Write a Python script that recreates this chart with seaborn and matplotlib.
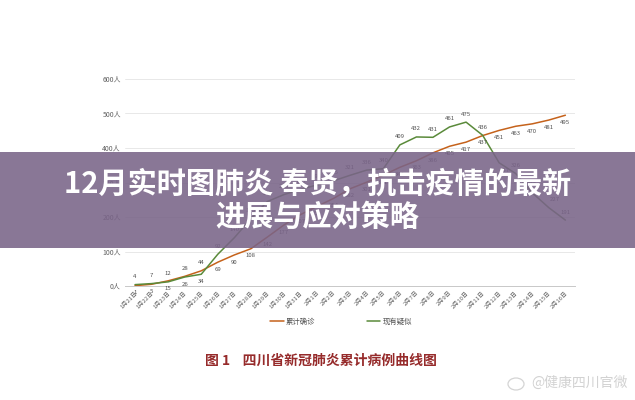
import matplotlib
matplotlib.use("Agg")
import matplotlib.pyplot as plt
import seaborn as sns
import pandas as pd
from matplotlib.patches import Rectangle, Ellipse

sns.set_theme(style="white")
plt.rcParams['font.family'] = ['Noto Sans CJK SC', 'DejaVu Sans']

dates = ["1月21日", "1月22日", "1月23日", "1月24日", "1月25日", "1月26日", "1月27日",
         "1月28日", "1月29日", "1月30日", "1月31日", "2月1日", "2月2日", "2月3日",
         "2月4日", "2月5日", "2月6日", "2月7日", "2月8日", "2月9日", "2月10日",
         "2月11日", "2月12日", "2月13日", "2月14日", "2月15日", "2月16日"]
confirmed = [1, 5, 15, 28, 44, 69, 90, 108, 142, 177, 207, 231, 254, 282, 301, 321,
             344, 363, 386, 405, 417, 436, 451, 463, 470, 481, 495]
suspected = [4, 7, 12, 26, 34, 92, 140, 195, 245, 265, 280, 293, 305, 321, 336, 340,
             409, 432, 431, 461, 475, 437, 357, 326, 270, 227, 191]
series_names = ["累计确诊", "现有疑似"]
yticks = [0, 100, 200, 300, 400, 500, 600]

title_lines = ["12月实时图肺炎 奉贤，抗击疫情的最新", "进展与应对策略"]
caption = "图 1    四川省新冠肺炎累计病例曲线图"
watermark = "@健康四川官微"

n = len(dates)
df = pd.DataFrame({
    "idx": list(range(n)) * 2,
    "value": confirmed + suspected,
    "series": [series_names[0]] * n + [series_names[1]] * n,
})

colors = {series_names[0]: "#C5621B", series_names[1]: "#5A8A3A"}

fig = plt.figure(figsize=(6.35, 4.0), dpi=100)
fig.patch.set_facecolor("white")
ax = fig.add_axes([0.197, 0.285, 0.709, 0.5175])

sns.lineplot(data=df, x="idx", y="value", hue="series", palette=colors,
             linewidth=1.1, ax=ax, legend=True)

ax.set_xlim(-0.6, n - 1 + 0.6)
ax.set_ylim(0, 600)
ax.set_yticks(yticks)
ax.set_yticklabels([f"{v}人" for v in yticks], fontsize=5, color="#606060")
ax.set_xticks(range(n))
ax.set_xticklabels(dates, fontsize=4.3, color="#606060", rotation=45,
                   ha="right", rotation_mode="anchor")
ax.tick_params(axis="both", length=0, pad=3)
ax.set_xlabel("")
ax.set_ylabel("")
for s in ["top", "right", "left"]:
    ax.spines[s].set_visible(False)
ax.spines["bottom"].set_color("#C8C8C8")
ax.spines["bottom"].set_linewidth(0.7)
ax.grid(axis="y", color="#E4E4E4", linewidth=0.6)
ax.set_axisbelow(True)

# data labels: suspected mostly above, confirmed mostly below
label_kw = dict(fontsize=4.3, color="#505050", ha="center")
for i, v in enumerate(confirmed):
    dy = 4 if i in (3, 4, 21) else -7
    ax.annotate(str(v), (i, v), xytext=(0, dy), textcoords="offset points",
                va="bottom", **label_kw)
for i, v in enumerate(suspected):
    dy = -7 if i in (3, 4, 21, 22) else 4
    dx = 4 if i in (22, 25) else 0
    ax.annotate(str(v), (i, v), xytext=(dx, dy), textcoords="offset points",
                va="bottom", **label_kw)

leg = ax.legend(loc="center", bbox_to_anchor=(0.48, -0.174), ncol=2,
                frameon=False, fontsize=5.3, handlelength=1.8, columnspacing=7,
                handletextpad=0.3)
for t in leg.get_texts():
    t.set_color("#505050")

fig.text(0.505, 1 - 361 / 400, caption, ha="center", va="center", fontsize=10,
         color="#962B2B", fontweight="bold")

# watermark with a small round logo
fig.patches.append(Ellipse((516 / 635, 1 - 384 / 400), 16 / 635, 12 / 400,
                           transform=fig.transFigure, facecolor="none",
                           edgecolor="#D4D4D4", linewidth=0.9))
fig.text(0.988, 1 - 383 / 400, watermark, ha="right", va="center", fontsize=10,
         color="#D2D2D2")

# translucent title banner
fig.patches.append(Rectangle((0, 1 - 248 / 400), 1, 96 / 400,
                             transform=fig.transFigure, facecolor="#796488",
                             alpha=0.88, edgecolor="none", zorder=5))
fig.text(0.5, 1 - 184 / 400, title_lines[0], ha="center", va="center",
         fontsize=21, fontweight="bold", color="white", zorder=6)
fig.text(0.5, 1 - 217 / 400, title_lines[1], ha="center", va="center",
         fontsize=21, fontweight="bold", color="white", zorder=6)

fig.savefig("out.png", dpi=100, facecolor="white")
